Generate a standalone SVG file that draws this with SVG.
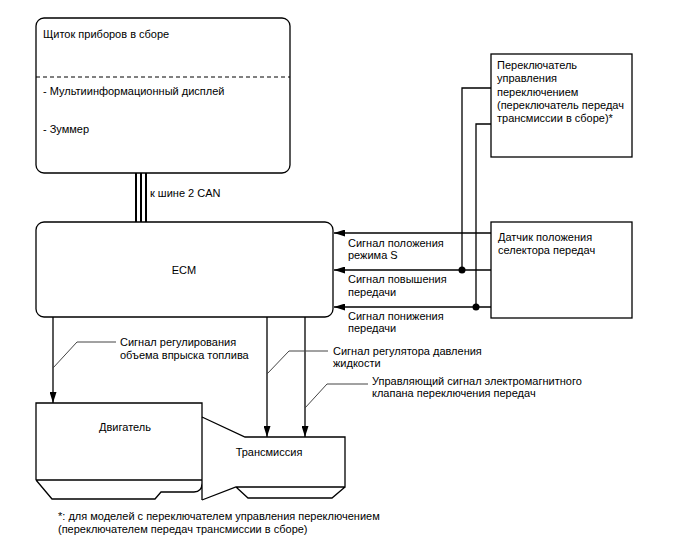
<svg xmlns="http://www.w3.org/2000/svg" width="688" height="560" viewBox="0 0 688 560">
<style>
text{font-family:"Liberation Sans",Arial,sans-serif;font-size:11px;fill:#000}
.box{fill:#fff;stroke:#000;stroke-width:1.3}
.ln{fill:none;stroke:#000;stroke-width:1.3}
.ld{fill:none;stroke:#444;stroke-width:1}
.can{stroke:#000;stroke-width:2}
</style>
<defs>
<marker id="ah" markerUnits="userSpaceOnUse" markerWidth="12" markerHeight="7" refX="11" refY="3.5" orient="auto">
<path d="M0,0 L11,3.5 L0,7 z" fill="#000"/>
</marker>
</defs>
<rect width="688" height="560" fill="#fff"/>

<g id="instrument-cluster">
<rect class="box" x="36" y="18" width="254" height="155" rx="8"/>
<line x1="36" y1="77" x2="290" y2="77" stroke="#000" stroke-width="1" stroke-dasharray="4,3"/>
<text x="43" y="38">Щиток приборов в сборе</text>
<text x="43" y="95">- Мультиинформационный дисплей</text>
<text x="43" y="133">- Зуммер</text>
</g>

<g id="ecm">
<rect class="box" x="36" y="222" width="297" height="95" rx="8"/>
<text x="184" y="274" text-anchor="middle">ECM</text>
</g>

<g id="shift-switch">
<rect class="box" x="491" y="54" width="141" height="103"/>
<text x="497" y="69">Переключатель</text>
<text x="497" y="82">управления</text>
<text x="497" y="96">переключением</text>
<text x="497" y="109">(переключатель передач</text>
<text x="497" y="122">трансмиссии в сборе)*</text>
</g>

<g id="position-sensor">
<rect class="box" x="491" y="222" width="141" height="96"/>
<text x="498" y="241">Датчик положения</text>
<text x="498" y="254">селектора передач</text>
</g>

<g id="engine">
<path class="ln" d="M36,480 V403 H202 V500 M36,480 H202 M36,480 L52,499 H155 L161,492 H194 Q202,492 202,483"/>
<text x="125" y="431" text-anchor="middle">Двигатель</text>
</g>

<g id="transmission">
<path class="ln" d="M202,417 L245,437 H345 V487 H236 L202,500 M236,487 L248,498 H332 L345,487"/>
<text x="269" y="456" text-anchor="middle">Трансмиссия</text>
</g>

<g id="connectors">
<line class="can" x1="136" y1="173" x2="136" y2="222"/>
<line class="can" x1="141" y1="173" x2="141" y2="222"/>
<line class="can" x1="146" y1="173" x2="146" y2="222"/>

<line class="ln" x1="491" y1="233" x2="334" y2="233" marker-end="url(#ah)"/>
<line class="ln" x1="491" y1="270" x2="334" y2="270" marker-end="url(#ah)"/>
<line class="ln" x1="491" y1="307" x2="334" y2="307" marker-end="url(#ah)"/>
<polyline class="ln" points="491,88 462,88 462,270"/>
<polyline class="ln" points="491,124 476,124 476,307"/>
<circle cx="462" cy="270" r="3.5" fill="#000"/>
<circle cx="476" cy="307" r="3.5" fill="#000"/>

<line class="ln" x1="53" y1="317" x2="53" y2="403" marker-end="url(#ah)"/>
<line class="ln" x1="267" y1="317" x2="267" y2="437" marker-end="url(#ah)"/>
<line class="ln" x1="305" y1="317" x2="305" y2="437" marker-end="url(#ah)"/>

<polyline class="ld" points="53,368 77,342 116,342"/>
<polyline class="ld" points="267,374 289,351 328,351"/>
<polyline class="ld" points="305,408 327,384 368,384"/>
</g>

<g id="labels">
<text x="150" y="197">к шине 2 CAN</text>
<text x="348" y="247">Сигнал положения</text>
<text x="348" y="259">режима S</text>
<text x="348" y="283">Сигнал повышения</text>
<text x="348" y="296">передачи</text>
<text x="348" y="320">Сигнал понижения</text>
<text x="348" y="332">передачи</text>
<text x="120" y="346">Сигнал регулирования</text>
<text x="120" y="359">объема впрыска топлива</text>
<text x="333" y="355">Сигнал регулятора давления</text>
<text x="333" y="367">жидкости</text>
<text x="372" y="385">Управляющий сигнал электромагнитного</text>
<text x="372" y="397">клапана переключения передач</text>
<text x="58" y="520">*: для моделей с переключателем управления переключением</text>
<text x="58" y="533">(переключателем передач трансмиссии в сборе)</text>
</g>
</svg>
